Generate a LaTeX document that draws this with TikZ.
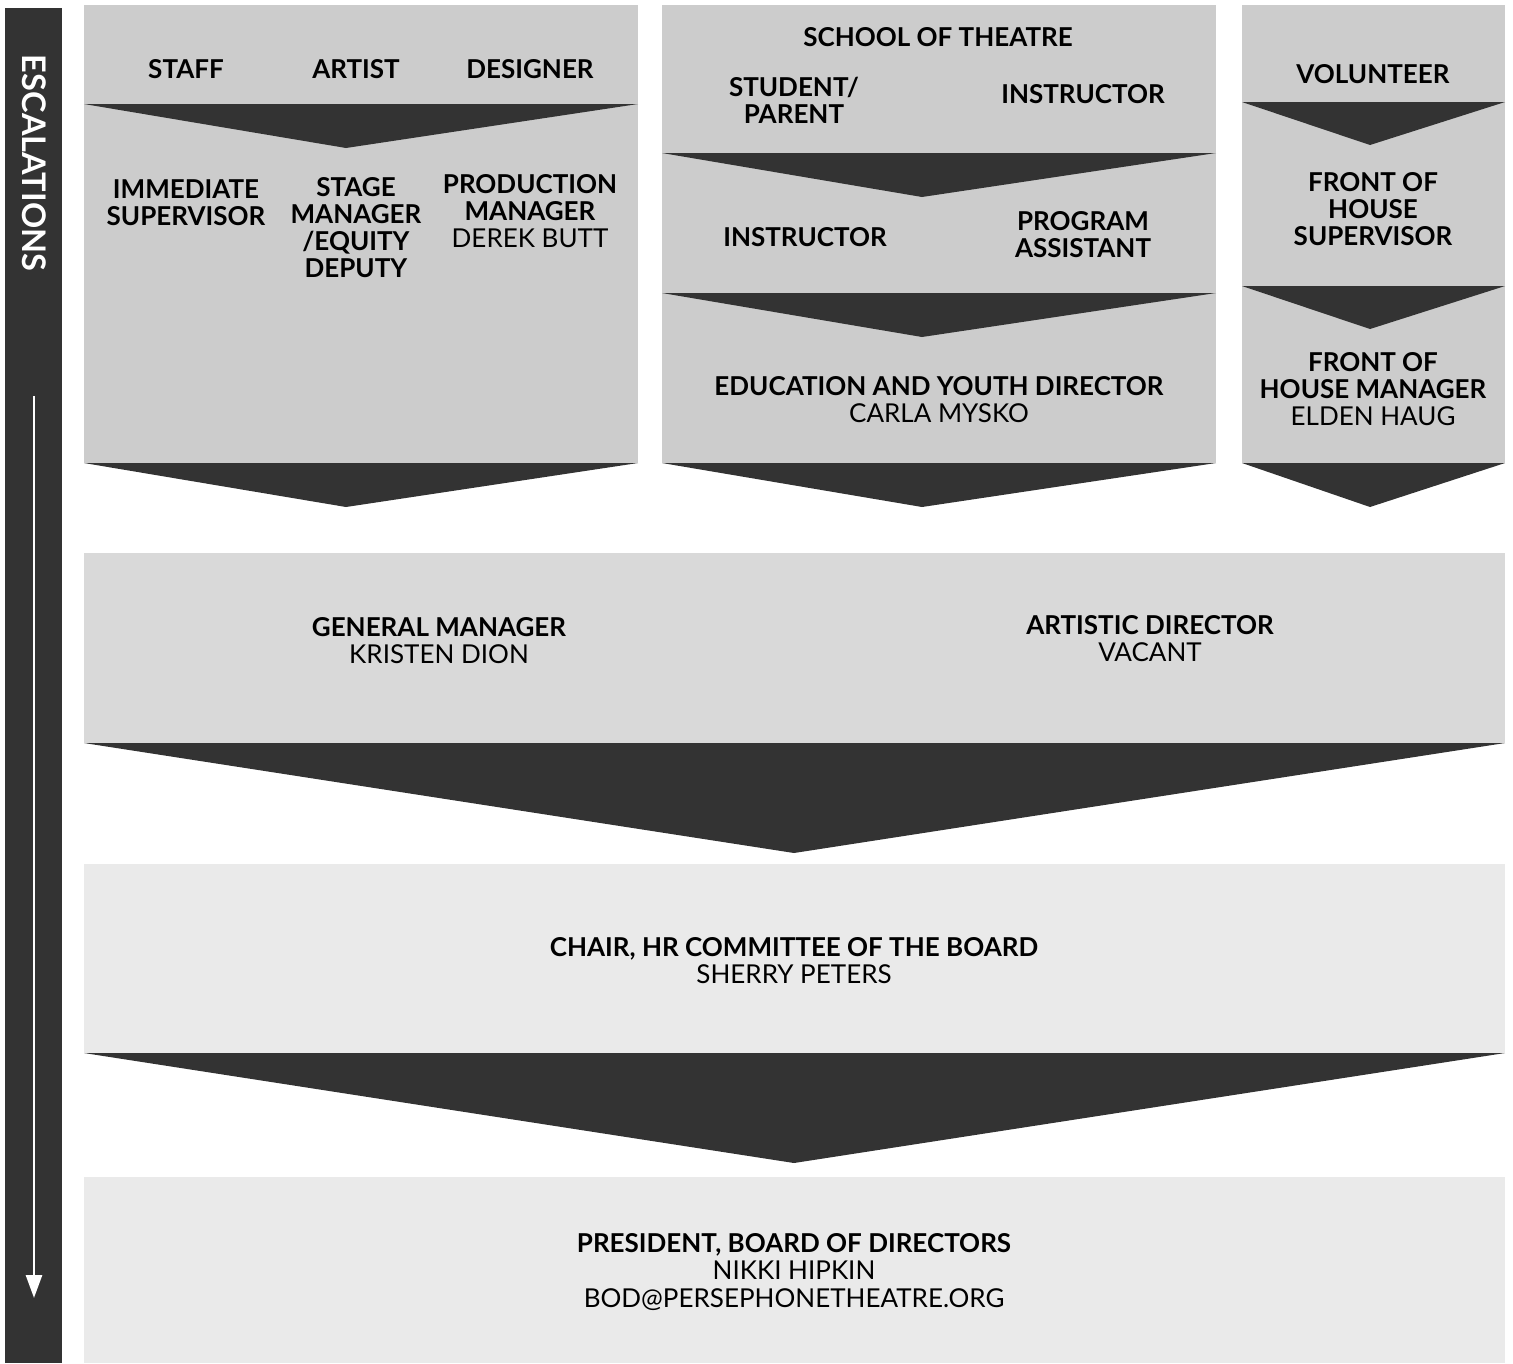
\documentclass[tikz,border=0pt]{standalone}
\usepackage{fontspec}
\setmainfont{Lato}
\usetikzlibrary{arrows.meta,positioning}
\definecolor{Dark}{HTML}{333333}
\definecolor{GrayA}{HTML}{CCCCCC}
\definecolor{GrayB}{HTML}{D9D9D9}
\definecolor{GrayC}{HTML}{EAEAEA}

\begin{document}
\begin{tikzpicture}[x=0.02cm,y=-0.02cm,
    role/.style={font=\fontsize{14.8}{15.4}\selectfont,align=center,text=black,inner sep=0pt},
    chev/.style={fill=Dark},
    >=Stealth]
  \useasboundingbox (0,0) rectangle (1513,1363);
  % escalation bar
  \fill[Dark] (5,8) rectangle (62,1363);
  \node[rotate=-90,text=white,inner sep=0pt,font=\fontsize{18.5}{19}\selectfont\bfseries] (esc) at (34,163) {ESCALATIONS};
  \coordinate (escA) at (34,396);
  \coordinate (escB) at (34,1298);
  \draw[white,line width=1.7pt,-{Triangle[width=9pt,length=13pt]}] (escA) -- (escB);

  % column boxes
  \fill[GrayA] (84,5) rectangle (638,463);
  \fill[GrayA] (662,5) rectangle (1216,463);
  \fill[GrayA] (1242,5) rectangle (1505,463);
  \fill[chev] (84,104) -- (638,104) -- (346,148) -- cycle;
  \fill[chev] (84,463) -- (638,463) -- (346,507) -- cycle;
  \fill[chev] (662,153) -- (1216,153) -- (922,197) -- cycle;
  \fill[chev] (662,293) -- (1216,293) -- (922,337) -- cycle;
  \fill[chev] (662,463) -- (1216,463) -- (922,507) -- cycle;
  \fill[chev] (1242,102) -- (1505,102) -- (1370,145) -- cycle;
  \fill[chev] (1242,286) -- (1505,286) -- (1370,329) -- cycle;
  \fill[chev] (1242,463) -- (1505,463) -- (1370,507) -- cycle;

  % wide bands
  \fill[GrayB] (84,553) rectangle (1505,743);
  \fill[chev] (84,743) -- (1505,743) -- (794,853) -- cycle;
  \fill[GrayC] (84,864) rectangle (1505,1053);
  \fill[chev] (84,1053) -- (1505,1053) -- (794,1163) -- cycle;
  \fill[GrayC] (84,1177) rectangle (1505,1363);

  % first column
  \node[role] (staff) at (186,69) {\textbf{STAFF}};
  \node[role] (artist) at (356,69) {\textbf{ARTIST}};
  \node[role] (designer) at (530,69) {\textbf{DESIGNER}};
  \node[role] (supv) at (186,203) {\textbf{IMMEDIATE}\\\textbf{SUPERVISOR}};
  \node[role] (stage) at (356,228) {\textbf{STAGE}\\\textbf{MANAGER}\\\textbf{/EQUITY}\\\textbf{DEPUTY}};
  \node[role] (prod) at (530,211) {\textbf{PRODUCTION}\\\textbf{MANAGER}\\DEREK BUTT};

  % school column
  \node[role] (school) at (938,37) {\textbf{SCHOOL OF THEATRE}};
  \node[role] (student) at (794,100) {\textbf{STUDENT/}\\\textbf{PARENT}};
  \node[role] (instrA) at (1083,94) {\textbf{INSTRUCTOR}};
  \node[role] (instrB) at (805,237) {\textbf{INSTRUCTOR}};
  \node[role] (progA) at (1083,235) {\textbf{PROGRAM}\\\textbf{ASSISTANT}};
  \node[role] (eduD) at (939,400) {\textbf{EDUCATION AND YOUTH DIRECTOR}\\CARLA MYSKO};

  % front of house column
  \node[role] (volun) at (1373,74) {\textbf{VOLUNTEER}};
  \node[role] (fohS) at (1373,209) {\textbf{FRONT OF}\\\textbf{HOUSE}\\\textbf{SUPERVISOR}};
  \node[role] (fohM) at (1373,389) {\textbf{FRONT OF}\\\textbf{HOUSE MANAGER}\\ELDEN HAUG};

  % bands
  \node[role] (genM) at (439,641) {\textbf{GENERAL MANAGER}\\KRISTEN DION};
  \node[role] (artD) at (1150,639) {\textbf{ARTISTIC DIRECTOR}\\VACANT};
  \node[role] (hrC) at (794,961) {\textbf{CHAIR, HR COMMITTEE OF THE BOARD}\\SHERRY PETERS};
  \node[role] (pres) at (794,1272) {\textbf{PRESIDENT, BOARD OF DIRECTORS}\\NIKKI HIPKIN\\BOD@PERSEPHONETHEATRE.ORG};
\end{tikzpicture}
\end{document}
